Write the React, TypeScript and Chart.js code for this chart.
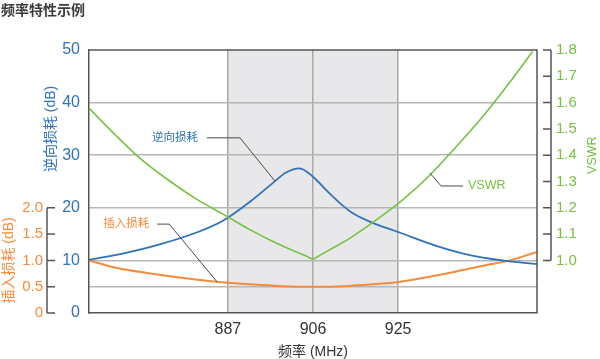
import { useEffect, useRef } from 'react';
import { Chart, registerables } from 'chart.js';

Chart.register(...registerables);

// ---- data ----
const xTicks = [887, 906, 925];
const bandRange = [887, 925];

const vswrFreq = [856, 862, 868, 874, 880, 886, 892, 898, 902, 904.8, 906, 907.3, 910, 914, 920, 926, 932, 938, 944, 950, 955];
const vswrValues = [1.579, 1.475, 1.379, 1.302, 1.233, 1.175, 1.116, 1.064, 1.034, 1.014, 1.005, 1.017, 1.043, 1.082, 1.152, 1.23, 1.323, 1.433, 1.549, 1.679, 1.794];

const rlFreq = [856, 864, 872, 880, 886, 892, 897, 900, 903, 906, 909, 912, 915, 920, 925, 933, 940, 949, 956];
const rlValues = [10.1, 11.4, 13.1, 15.3, 17.6, 21.2, 24.7, 26.7, 27.5, 25.9, 23.3, 20.9, 18.9, 16.9, 15.4, 12.9, 11.2, 9.9, 9.3];

const ilFreq = [856, 862, 869, 878, 885, 892, 899, 906, 913, 920, 926, 932, 938, 944, 950, 956];
const ilValues = [1.0, 0.86, 0.76, 0.655, 0.59, 0.545, 0.51, 0.5, 0.51, 0.55, 0.6, 0.69, 0.79, 0.9, 1.0, 1.16];

const rlTicks = [0, 10, 20, 30, 40, 50];
const rlGridValues = [5, 10, 20, 30, 40];
const ilTicks = [0, 0.5, 1.0, 1.5, 2.0];
const vswrTicks = [1.0, 1.1, 1.2, 1.3, 1.4, 1.5, 1.6, 1.7, 1.8];

// annotation anchors (data units)
const rlLabel = { text: '逆向损耗', f: 875.2, v: 33.3 };
const rlLeader = [[882.3, 33.3], [889.7, 33.3], [897.5, 25.1]];
const ilLabel = { text: '插入损耗', f: 864.3, v: 1.69 };
const ilLeader = [[871.2, 1.69], [873.9, 1.69], [884.6, 0.59]];
const vswrLabel = { text: 'VSWR', f: 940.6, v: 1.283 };
const vswrLeader = [[939.5, 1.283], [934.6, 1.283], [932.1, 1.332]];

const BLUE = '#2f72b9';
const GREEN = '#76c043';
const ORANGE = '#f68b3c';
const DARK = '#555555';
const FONT = '"Liberation Sans", Arial, "Noto Sans CJK SC", sans-serif';
const CJK = '"Liberation Sans", "Noto Sans CJK SC", sans-serif';

const fmt1 = (v: number) => (v === 0 ? '0' : v.toFixed(1));

const customPlugin = {
  id: 'customDraw',
  beforeDraw(chart: any) {
    const { ctx, chartArea: a, scales } = chart;
    const x0 = scales.x.getPixelForValue(bandRange[0]);
    const x1 = scales.x.getPixelForValue(bandRange[1]);
    ctx.save();
    ctx.fillStyle = '#e8e8ea';
    ctx.fillRect(x0, a.top, x1 - x0, a.bottom - a.top);
    ctx.restore();
  },
  afterDraw(chart: any) {
    const { ctx, chartArea: a, scales } = chart;
    const sx = scales.x, sy = scales.y, sil = scales.yIL, sv = scales.y2;
    ctx.save();
    // top & right border
    ctx.strokeStyle = DARK;
    ctx.lineWidth = 1.5;
    ctx.beginPath();
    ctx.moveTo(a.left, a.top);
    ctx.lineTo(a.right, a.top);
    ctx.lineTo(a.right, a.bottom);
    ctx.stroke();

    // IL axis line + ticks
    const ilX = sil.right - 9;
    ctx.beginPath();
    ctx.moveTo(ilX, sil.getPixelForValue(ilTicks[ilTicks.length - 1]));
    ctx.lineTo(ilX, sil.getPixelForValue(0));
    ilTicks.forEach((t) => {
      const y = sil.getPixelForValue(t);
      ctx.moveTo(ilX, y);
      ctx.lineTo(ilX + 8, y);
    });
    ctx.stroke();

    // VSWR axis line + ticks
    const vX = sv.left + 14;
    ctx.beginPath();
    ctx.moveTo(vX, sv.getPixelForValue(vswrTicks[vswrTicks.length - 1]));
    ctx.lineTo(vX, sv.getPixelForValue(vswrTicks[0]));
    vswrTicks.forEach((t) => {
      const y = sv.getPixelForValue(t);
      ctx.moveTo(vX - 8, y);
      ctx.lineTo(vX, y);
    });
    ctx.stroke();

    // leaders
    const drawLeader = (pts: number[][], scale: any) => {
      ctx.strokeStyle = '#4a4a4a';
      ctx.lineWidth = 1;
      ctx.beginPath();
      pts.forEach((p, i) => {
        const px = sx.getPixelForValue(p[0]);
        const py = scale.getPixelForValue(p[1]);
        if (i === 0) ctx.moveTo(px, py);
        else ctx.lineTo(px, py);
      });
      ctx.stroke();
    };
    drawLeader(rlLeader, sy);
    drawLeader(ilLeader, sil);
    drawLeader(vswrLeader, sv);

    // annotation labels
    ctx.textBaseline = 'middle';
    ctx.font = `11.5px ${CJK}`;
    ctx.textAlign = 'center';
    ctx.fillStyle = BLUE;
    ctx.fillText(rlLabel.text, sx.getPixelForValue(rlLabel.f), sy.getPixelForValue(rlLabel.v));
    ctx.fillStyle = ORANGE;
    ctx.fillText(ilLabel.text, sx.getPixelForValue(ilLabel.f), sil.getPixelForValue(ilLabel.v));
    ctx.font = `12.5px ${FONT}`;
    ctx.textAlign = 'left';
    ctx.fillStyle = GREEN;
    ctx.fillText(vswrLabel.text, sx.getPixelForValue(vswrLabel.f), sv.getPixelForValue(vswrLabel.v));

    // axis titles
    const vText = (text: string, x: number, y: number, color: string, font: string) => {
      ctx.save();
      ctx.translate(x, y);
      ctx.rotate(-Math.PI / 2);
      ctx.textAlign = 'center';
      ctx.textBaseline = 'middle';
      ctx.fillStyle = color;
      ctx.font = font;
      ctx.fillText(text, 0, 0);
      ctx.restore();
    };
    vText('逆向损耗 (dB)', 51, (sy.getPixelForValue(20) + sy.getPixelForValue(50)) / 2, BLUE, `14px ${CJK}`);
    vText('插入损耗 (dB)', 9, (sil.getPixelForValue(0) + sil.getPixelForValue(2)) / 2, ORANGE, `14px ${CJK}`);
    vText('VSWR', 593, (sv.getPixelForValue(1.0) + sv.getPixelForValue(1.8)) / 2, GREEN, `12.5px ${FONT}`);

    ctx.textAlign = 'center';
    ctx.textBaseline = 'middle';
    ctx.fillStyle = '#333';
    ctx.font = `14px ${CJK}`;
    ctx.fillText('频率 (MHz)', (a.left + a.right) / 2, 352);

    // chart title
    ctx.textAlign = 'left';
    ctx.font = `bold 14px "Noto Sans CJK SC", sans-serif`;
    ctx.fillStyle = '#3a3a3a';
    ctx.fillText('频率特性示例', 1, 10);
    ctx.restore();
  },
};

export default function App() {
  const ref = useRef<HTMLCanvasElement>(null);
  useEffect(() => {
    const chart = new Chart(ref.current as HTMLCanvasElement, {
      type: 'line',
      data: {
        datasets: [
          {
            label: 'VSWR',
            data: vswrFreq.map((f, i) => ({ x: f, y: vswrValues[i] })),
            yAxisID: 'y2',
            borderColor: GREEN,
            borderWidth: 1.6,
            pointRadius: 0,
            cubicInterpolationMode: 'monotone',
            fill: false,
          },
          {
            label: '逆向损耗',
            data: rlFreq.map((f, i) => ({ x: f, y: rlValues[i] })),
            yAxisID: 'y',
            borderColor: BLUE,
            borderWidth: 1.8,
            pointRadius: 0,
            cubicInterpolationMode: 'monotone',
            fill: false,
          },
          {
            label: '插入损耗',
            data: ilFreq.map((f, i) => ({ x: f, y: ilValues[i] })),
            yAxisID: 'yIL',
            borderColor: ORANGE,
            borderWidth: 2,
            pointRadius: 0,
            cubicInterpolationMode: 'monotone',
            fill: false,
          },
        ],
      },
      options: {
        responsive: false,
        devicePixelRatio: 1,
        animation: false,
        layout: { padding: { top: 50, left: 0, right: 0, bottom: 0 } },
        plugins: { legend: { display: false }, tooltip: { enabled: false }, title: { display: false } },
        scales: {
          x: {
            type: 'linear',
            min: 856,
            max: 956,
            afterBuildTicks: (s: any) => {
              s.ticks = xTicks.map((v) => ({ value: v }));
            },
            afterFit: (s: any) => {
              s.height = 46;
            },
            grid: { color: '#a8a8a8', lineWidth: 1.5, drawTicks: false },
            border: { display: true, color: DARK, width: 1.5 },
            ticks: {
              color: '#333',
              font: { family: FONT, size: 16 },
              padding: 7,
              autoSkip: false,
              maxRotation: 0,
              callback: (v: any) => String(v),
            },
          },
          y: {
            position: 'left',
            weight: 0,
            min: 0,
            max: 50,
            afterBuildTicks: (s: any) => {
              const arr: any[] = [];
              for (let v = 0; v <= 50; v += 5) arr.push({ value: v });
              s.ticks = arr;
            },
            afterFit: (s: any) => {
              s.width = 33;
            },
            grid: {
              drawTicks: false,
              lineWidth: 1.5,
              color: (c: any) => (rlGridValues.includes(c.tick?.value) ? '#b6b6b6' : 'rgba(0,0,0,0)'),
            },
            border: { display: true, color: DARK, width: 1.5 },
            ticks: {
              color: BLUE,
              font: { family: FONT, size: 16 },
              padding: 9,
              autoSkip: false,
              callback: (v: any) => (rlTicks.includes(v) ? String(v) : ''),
            },
          },
          yIL: {
            position: 'left',
            weight: 10,
            min: 0,
            max: 5,
            afterBuildTicks: (s: any) => {
              s.ticks = ilTicks.map((v) => ({ value: v }));
            },
            afterFit: (s: any) => {
              s.width = 56;
            },
            grid: { display: false, drawOnChartArea: false, drawTicks: false },
            border: { display: false },
            ticks: {
              color: ORANGE,
              font: { family: FONT, size: 15 },
              padding: 13,
              autoSkip: false,
              callback: (v: any) => fmt1(v),
            },
          },
          y2: {
            position: 'right',
            min: 0.8,
            max: 1.8,
            afterBuildTicks: (s: any) => {
              s.ticks = vswrTicks.map((v) => ({ value: v }));
            },
            afterFit: (s: any) => {
              s.width = 63;
            },
            grid: { display: false, drawOnChartArea: false, drawTicks: false },
            border: { display: false },
            ticks: {
              color: GREEN,
              font: { family: FONT, size: 15 },
              padding: 19,
              autoSkip: false,
              callback: (v: any) => Number(v).toFixed(1),
            },
          },
        },
      } as any,
      plugins: [customPlugin],
    });
    return () => chart.destroy();
  }, []);
  return (
    <div style={{ position: 'absolute', left: 0, top: 0, width: 600, height: 359 }}>
      <canvas ref={ref} width={600} height={359} style={{ display: 'block' }} />
    </div>
  );
}
